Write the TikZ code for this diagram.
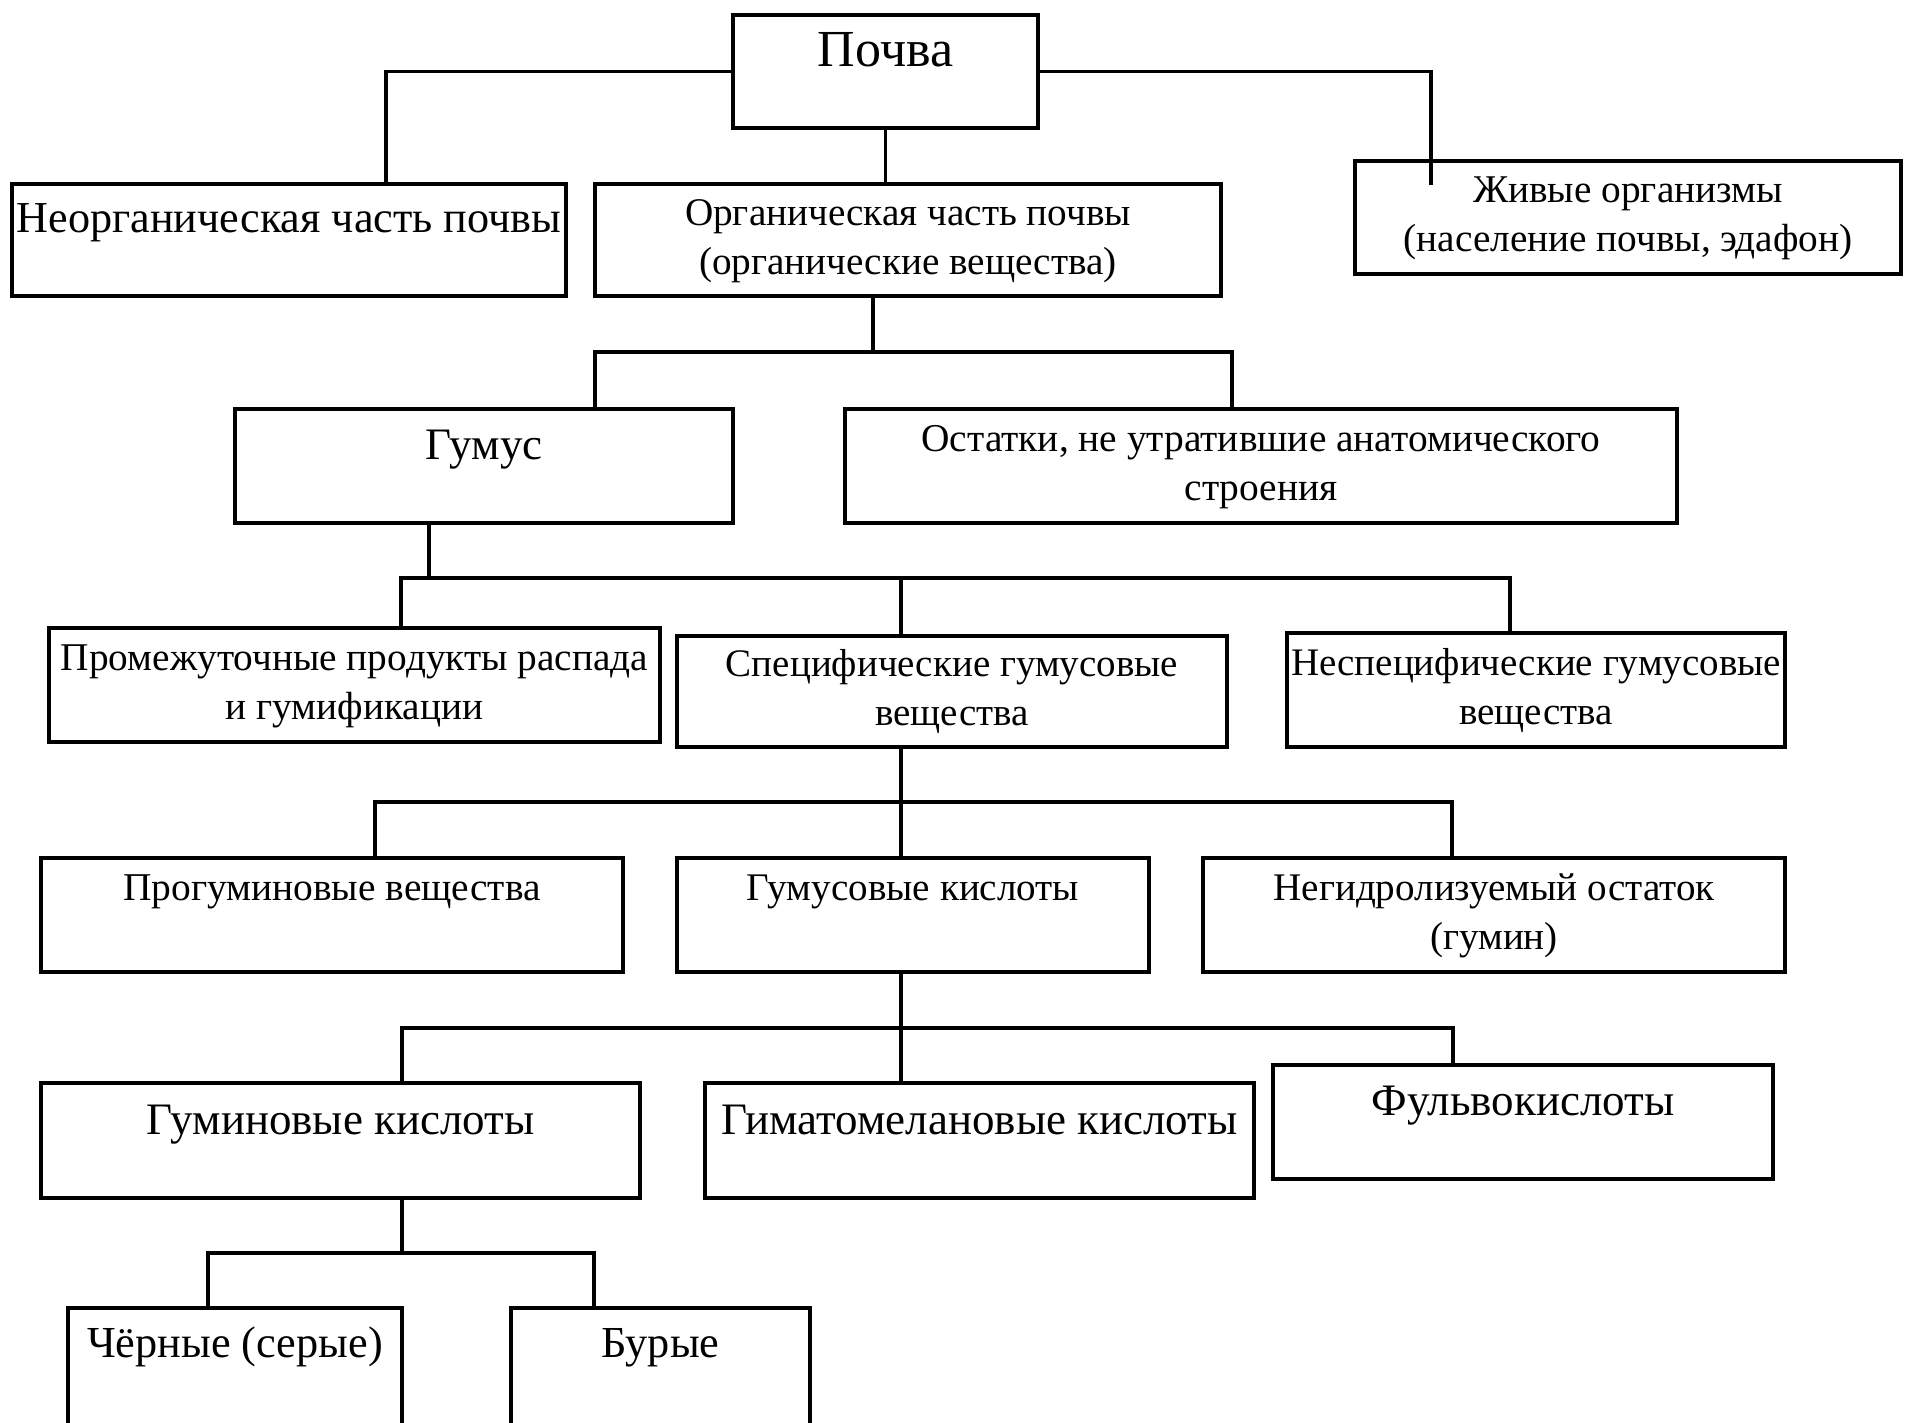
\documentclass[tikz,border=0pt]{standalone}
\usepackage{fontspec}
\setmainfont{Liberation Serif}
\begin{document}
\begin{tikzpicture}[x=1pt,y=-1pt,
  box/.style={draw=black, line width=4.5pt, inner sep=0pt, outer sep=0pt, align=center},
  conn/.style={draw=black, line width=3.2pt},
  fs/.style={font=\fontsize{#1}{49}\selectfont}]
\useasboundingbox (0,0) rectangle (1905,1422);
\clip (0,0) rectangle (1905,1422);
% level 0
\node[box, fs=52, minimum width=305pt, minimum height=113pt] (p) at (885.5,71.5) {\strut Почва\\[-20pt]\strut};
% level 1
\node[box, fs=44.2, minimum width=554pt, minimum height=112pt] (neorg) at (289,240) {\strut Неорганическая часть почвы\\[-14pt]\strut};
\node[box, fs=39.2, minimum width=626pt, minimum height=112pt] (org) at (908,240) {\strut Органическая часть почвы\\\strut (органические вещества)};
\node[box, fs=39.3, minimum width=546pt, minimum height=113pt] (live) at (1628,217.5) {\strut Живые организмы\\\strut (население почвы, эдафон)};
% level 2
\node[box, fs=45, minimum width=498pt, minimum height=114pt] (gum) at (484,466) {\strut Гумус\\[-17pt]\strut};
\node[box, fs=39.4, minimum width=832pt, minimum height=114pt] (ost) at (1261,466) {\strut Остатки, не утратившие анатомического\\\strut строения};
% level 3
\node[box, fs=39.3, minimum width=611pt, minimum height=114pt] (prom) at (354.5,685) {\strut Промежуточные продукты распада\\\strut и гумификации};
\node[box, fs=39, minimum width=550pt, minimum height=111pt] (spec) at (952,691.5) {\strut Специфические гумусовые\\\strut вещества};
\node[box, fs=39, minimum width=498pt, minimum height=114pt] (nespec) at (1536,690) {\strut Неспецифические гумусовые\\\strut вещества};
% level 4
\node[box, fs=39.4, minimum width=582pt, minimum height=114pt] (progum) at (332,915) {\strut Прогуминовые вещества\\\strut};
\node[box, fs=39.1, minimum width=472pt, minimum height=114pt] (gumk) at (913,915) {\strut Гумусовые кислоты\\\strut};
\node[box, fs=39.1, minimum width=582pt, minimum height=114pt] (negidr) at (1494,915) {\strut Негидролизуемый остаток\\\strut (гумин)};
% level 5
\node[box, fs=45, minimum width=599pt, minimum height=115pt] (guminov) at (340.5,1140.5) {\strut Гуминовые кислоты\\[-17pt]\strut};
\node[box, fs=45, minimum width=549pt, minimum height=115pt] (gimat) at (979.5,1140.5) {\strut Гиматомелановые кислоты\\[-17pt]\strut};
\node[box, fs=45, minimum width=500pt, minimum height=114pt] (fulvo) at (1523,1122) {\strut Фульвокислоты\\[-17pt]\strut};
% level 6
\node[box, fs=44.3, minimum width=334pt, minimum height=128pt] (cher) at (235,1372) {\strut Чёрные (серые)\\\strut};
\node[box, fs=44.3, minimum width=299pt, minimum height=128pt] (bur) at (660.5,1372) {\strut Бурые\\\strut};

% connectors level 1
\coordinate (j1a) at ([xshift=97pt]neorg.north);
\coordinate (j1b) at ([xshift=-197pt,yshift=-24pt]live.north);
\draw[conn] (p.west) -| (j1a);
\draw[conn] (p.east) -| (j1b);
\draw[conn] (p.south) -- (p.south |- org.north);
% level 2
\coordinate (j2top) at ([xshift=-35pt]org.south);
\coordinate (j2bar) at (873,352);
\coordinate (j2l) at ([xshift=111pt]gum.north);
\coordinate (j2r) at ([xshift=-29pt]ost.north);
\draw[conn] (j2top) -- (j2bar);
\draw[conn] (j2l) |- (j2bar) -| (j2r);
% level 3
\coordinate (j3top) at ([xshift=-55pt]gum.south);
\coordinate (j3bar) at (429,578);
\coordinate (j3l) at ([xshift=46.5pt]prom.north);
\coordinate (j3c) at ([xshift=-51pt]spec.north);
\coordinate (j3r) at ([xshift=-26pt]nespec.north);
\draw[conn] (j3top) -- (j3bar);
\draw[conn] (j3l) |- (j3bar) -| (j3r);
\draw[conn] (j3c) -- (j3c |- j3bar);
% level 4
\coordinate (j4top) at ([xshift=-51pt]spec.south);
\coordinate (j4c) at ([xshift=-12pt]gumk.north);
\coordinate (j4bar) at (901,802);
\coordinate (j4l) at ([xshift=43pt]progum.north);
\coordinate (j4r) at ([xshift=-42pt]negidr.north);
\draw[conn] (j4top) -- (j4c);
\draw[conn] (j4l) |- (j4bar) -| (j4r);
% level 5
\coordinate (j5top) at ([xshift=-12pt]gumk.south);
\coordinate (j5c) at ([xshift=-78.5pt]gimat.north);
\coordinate (j5bar) at (901,1028);
\coordinate (j5l) at ([xshift=61.5pt]guminov.north);
\coordinate (j5r) at ([xshift=-70pt]fulvo.north);
\draw[conn] (j5top) -- (j5c);
\draw[conn] (j5l) |- (j5bar) -| (j5r);
% level 6
\coordinate (j6top) at ([xshift=61.5pt]guminov.south);
\coordinate (j6bar) at (402,1253);
\coordinate (j6l) at ([xshift=-27pt]cher.north);
\coordinate (j6r) at ([xshift=-66.5pt]bur.north);
\draw[conn] (j6top) -- (j6bar);
\draw[conn] (j6l) |- (j6bar) -| (j6r);
\end{tikzpicture}
\end{document}
